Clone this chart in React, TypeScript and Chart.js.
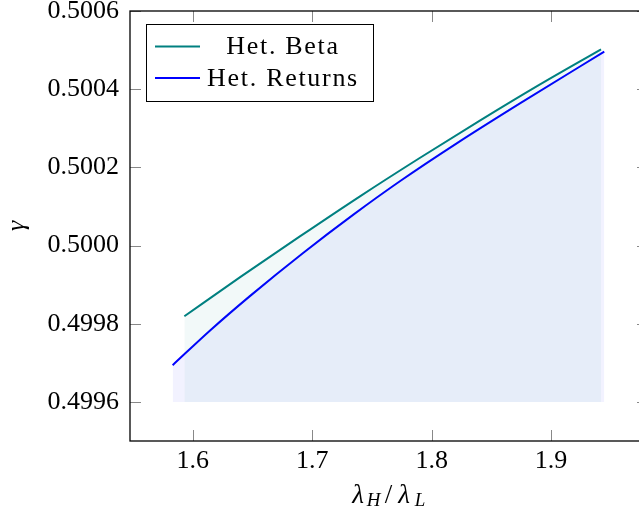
import React, { useEffect, useRef } from "react";
import { Chart, registerables } from "chart.js";

Chart.register(...registerables);

// ---- data ----
const seriesLabels = ["Het. Beta", "Het. Returns"];
const betaX = [1.593, 1.64, 1.69, 1.74, 1.79, 1.84, 1.89, 1.9418];
const betaY = [0.499819, 0.49992, 0.500024, 0.500126, 0.500224, 0.500319, 0.500411, 0.500502];
const returnsX = [1.5832, 1.615, 1.6476, 1.6924, 1.7345, 1.7737, 1.8213, 1.8773, 1.9445];
const returnsY = [0.499694, 0.499784, 0.49987, 0.499981, 0.500079, 0.500165, 0.500262, 0.50037, 0.500496];
const fillBase = 0.4996;
const xTicks = [1.6, 1.7, 1.8, 1.9];
const xTickLabels = ["1.6", "1.7", "1.8", "1.9"];
const yTicks = [0.4996, 0.4998, 0.5, 0.5002, 0.5004, 0.5006];
const yTickLabels = ["0.4996", "0.4998", "0.5000", "0.5002", "0.5004", "0.5006"];
const xRange = [1.5475, 1.9811];
const yRange = [0.4995, 0.5006];
const yTitle = "γ";
const xTitleParts = ["λ", "H", "/", "λ", "L"];

const SERIF = '"Liberation Serif", "DejaVu Serif", serif';
const colors = ["#008080", "#0000ff"];
const fills = ["rgba(0,128,128,0.05)", "rgba(0,0,255,0.05)"];

const decorPlugin = {
  id: "decor",
  afterDraw(chart: any) {
    const { ctx, chartArea: a, scales } = chart;
    ctx.save();
    const L = 11;
    ctx.strokeStyle = "#888888";
    ctx.lineWidth = 1;
    const seg = (x1: number, y1: number, x2: number, y2: number) => {
      ctx.beginPath();
      ctx.moveTo(x1, y1);
      ctx.lineTo(x2, y2);
      ctx.stroke();
    };
    for (const v of xTicks) {
      const px = Math.round(scales.x.getPixelForValue(v)) + 0.5;
      seg(px, a.bottom, px, a.bottom - L);
      seg(px, a.top, px, a.top + L);
    }
    for (const v of yTicks) {
      const py = Math.round(scales.y.getPixelForValue(v)) + 0.5;
      seg(a.left, py, a.left + L, py);
      seg(a.right, py, a.right - L, py);
    }
    // frame
    ctx.strokeStyle = "#000";
    ctx.lineWidth = 1.3;
    ctx.strokeRect(a.left, a.top, a.right - a.left, a.bottom - a.top);

    // legend
    const lx = a.left + 16;
    const ly = a.top + 13;
    const lw = 227;
    const lh = 77;
    ctx.fillStyle = "#fff";
    ctx.fillRect(lx, ly, lw, lh);
    ctx.strokeStyle = "#000";
    ctx.lineWidth = 1;
    ctx.strokeRect(lx + 0.5, ly + 0.5, lw, lh);
    const rows = [ly + 22.5, ly + 54];
    chart.data.datasets.forEach((ds: any, i: number) => {
      ctx.strokeStyle = ds.borderColor;
      ctx.lineWidth = 2;
      seg(lx + 9, rows[i], lx + 54, rows[i]);
      ctx.fillStyle = "#000";
      ctx.font = `26px ${SERIF}`;
      try { (ctx as any).letterSpacing = "1.7px"; } catch (e) {}
      ctx.textAlign = "center";
      ctx.textBaseline = "middle";
      ctx.fillText(ds.label, lx + 137, rows[i] + 1);
      try { (ctx as any).letterSpacing = "0px"; } catch (e) {}
    });

    // x title with subscripts: slots laid out like TeX math
    const big = `italic 27px ${SERIF}`;
    const small = `italic 19px ${SERIF}`;
    const upright = `27px ${SERIF}`;
    const fonts = [big, small, upright, big, small];
    const dys = [0, 3, 0, 0, 3];
    const slots = [
      [0, 16],
      [16, 31],
      [32, 45],
      [46, 62],
      [62, 78],
    ];
    const left = (a.left + a.right) / 2 - 39;
    const base = a.bottom + 62;
    ctx.fillStyle = "#000";
    ctx.textAlign = "center";
    ctx.textBaseline = "alphabetic";
    xTitleParts.forEach((t, i) => {
      ctx.font = fonts[i];
      ctx.fillText(t, left + (slots[i][0] + slots[i][1]) / 2, base + dys[i]);
    });
    ctx.restore();
  },
};

export default function App() {
  const ref = useRef<HTMLCanvasElement | null>(null);
  useEffect(() => {
    let chart: any = null;
    let cancelled = false;
    const build = () => {
      if (cancelled || !ref.current) return;
      chart = new Chart(ref.current, {
        type: "line",
        data: {
          datasets: [
            {
              label: seriesLabels[0],
              data: betaX.map((x, i) => ({ x, y: betaY[i] })),
              borderColor: colors[0],
              backgroundColor: fills[0],
              borderWidth: 2,
              pointRadius: 0,
              cubicInterpolationMode: "monotone",
              fill: { value: fillBase },
            },
            {
              label: seriesLabels[1],
              data: returnsX.map((x, i) => ({ x, y: returnsY[i] })),
              borderColor: colors[1],
              backgroundColor: fills[1],
              borderWidth: 2,
              pointRadius: 0,
              cubicInterpolationMode: "monotone",
              fill: { value: fillBase },
            },
          ],
        },
        options: {
          animation: false,
          responsive: false,
          maintainAspectRatio: false,
          layout: { padding: { left: 0, top: 11, right: 12, bottom: 0 } },
          plugins: { legend: { display: false }, tooltip: { enabled: false } },
          scales: {
            x: {
              type: "linear",
              min: xRange[0],
              max: xRange[1],
              grid: { display: false, drawTicks: false },
              border: { display: false },
              afterBuildTicks: (s: any) => {
                s.ticks = xTicks.map((v) => ({ value: v }));
              },
              afterFit: (s: any) => {
                s.height = 76;
                s.paddingLeft = 0;
                s.paddingRight = 0;
              },
              ticks: {
                color: "#000",
                padding: 5,
                maxRotation: 0,
                font: { family: SERIF, size: 26, lineHeight: 1.2 },
                callback: (v: any) => {
                  const i = xTicks.findIndex((t) => Math.abs(t - v) < 1e-9);
                  return i >= 0 ? xTickLabels[i] : "";
                },
              },
            },
            y: {
              type: "linear",
              min: yRange[0],
              max: yRange[1],
              grid: { display: false, drawTicks: false },
              border: { display: false },
              afterBuildTicks: (s: any) => {
                s.ticks = yTicks.map((v) => ({ value: v }));
              },
              afterFit: (s: any) => {
                s.width = 130;
                s.paddingTop = 0;
                s.paddingBottom = 0;
              },
              title: {
                display: true,
                text: yTitle,
                color: "#000",
                padding: { top: 2, bottom: 4 },
                font: { family: SERIF, size: 26, style: "italic", lineHeight: 1.2 },
              },
              ticks: {
                color: "#000",
                padding: 11,
                font: { family: SERIF, size: 26, lineHeight: 1.2 },
                callback: (v: any) => {
                  const i = yTicks.findIndex((t) => Math.abs(t - v) < 1e-9);
                  return i >= 0 ? yTickLabels[i] : "";
                },
              },
            },
          },
        },
        plugins: [decorPlugin],
      } as any);
    };
    const fontsApi: any = (document as any).fonts;
    if (fontsApi && fontsApi.load) {
      Promise.all([
        fontsApi.load('26px "Liberation Serif"'),
        fontsApi.load('italic 26px "Liberation Serif"'),
        fontsApi.load('italic 19px "Liberation Serif"'),
      ])
        .catch(() => null)
        .then(build);
    } else {
      build();
    }
    return () => {
      cancelled = true;
      if (chart) chart.destroy();
    };
  }, []);
  return (
    <div
      style={{
        position: "fixed",
        left: 0,
        top: 0,
        width: 639,
        height: 517,
        overflow: "hidden",
        background: "#fff",
      }}
    >
      <canvas ref={ref} width={660} height={517} style={{ display: "block" }} />
    </div>
  );
}
